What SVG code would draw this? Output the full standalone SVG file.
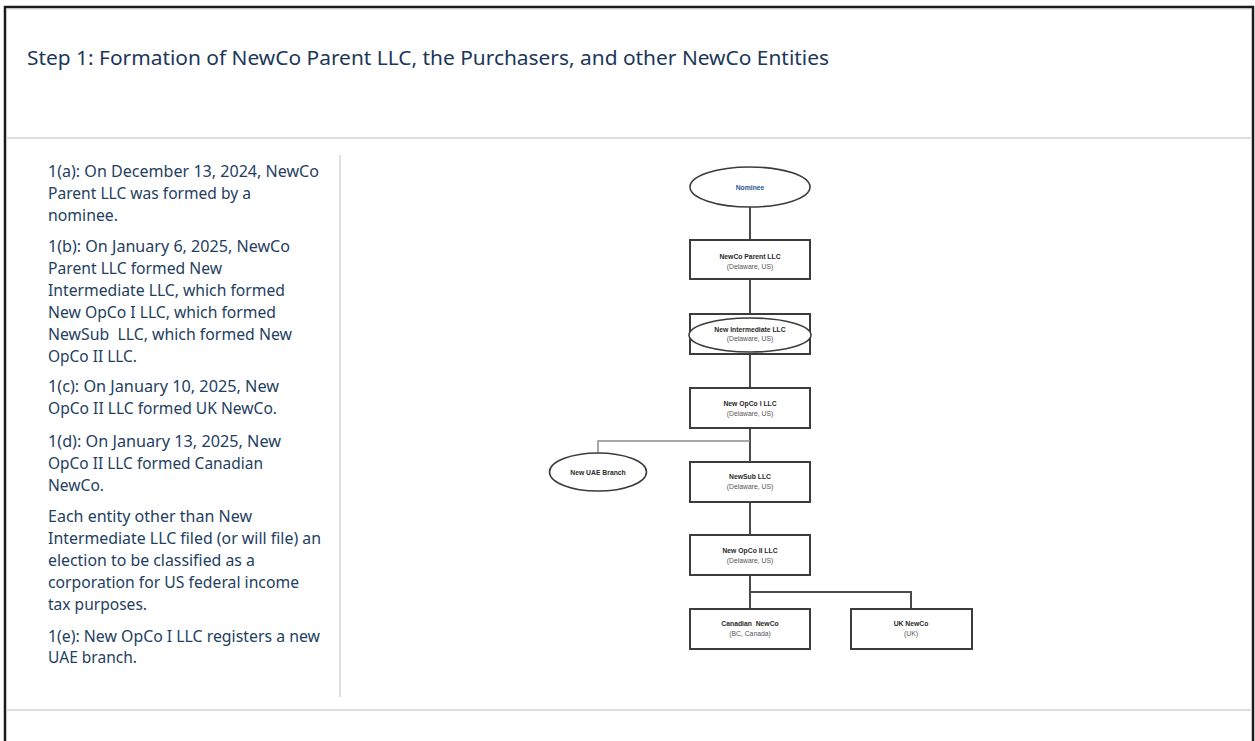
<svg xmlns="http://www.w3.org/2000/svg" width="1255" height="741" viewBox="0 0 1255 741">
  <style>
    .frame { stroke: #1a1a1a; stroke-width: 2.5; fill: none; }
    .rule { stroke: #d4d4d4; stroke-width: 1.5; fill: none; }
    .title { font-family: "Noto Sans", "Open Sans", sans-serif; font-size: 20.5px; fill: #1d3759; }
    .note { font-family: "Noto Sans", "Open Sans", sans-serif; font-size: 16px; fill: #24405f; }
    .box { fill: #ffffff; stroke: #3c3c3c; stroke-width: 2; }
    .oval { fill: #ffffff; stroke: #3c3c3c; stroke-width: 1.6; }
    .link { stroke: #4a4a4a; stroke-width: 2; fill: none; }
    .thin { stroke: #8c8c8c; stroke-width: 1.5; fill: none; }
    .name { font-family: "Liberation Sans", Arial, sans-serif; font-size: 6.8px; font-weight: bold; fill: #2a2a2a; text-anchor: middle; }
    .sub { font-family: "Liberation Sans", Arial, sans-serif; font-size: 6.8px; fill: #555555; text-anchor: middle; }
    .blue { fill: #2f5597; }
  </style>

  <rect x="0" y="0" width="1255" height="741" fill="#ffffff"/>

  <!-- page frame (open at the bottom) -->
  <path class="frame" d="M5,741 V7 H1253 V741"/>
  <line x1="6" y1="9.5" x2="1252" y2="9.5" stroke="#e6e6e6" stroke-width="1"/>

  <!-- header / footer rules and column divider -->
  <line class="rule" x1="6" y1="138" x2="1252" y2="138"/>
  <line class="rule" x1="6" y1="710" x2="1252" y2="710"/>
  <line class="rule" x1="340" y1="155" x2="340" y2="697"/>

  <text class="title" x="27" y="65" textLength="802" lengthAdjust="spacingAndGlyphs">Step 1: Formation of NewCo Parent LLC, the Purchasers, and other NewCo Entities</text>

  <!-- step notes -->
  <g id="notes" class="note">
    <text x="48" y="177" textLength="271" lengthAdjust="spacingAndGlyphs">1(a): On December 13, 2024, NewCo</text>
    <text x="48" y="199" textLength="203" lengthAdjust="spacingAndGlyphs">Parent LLC was formed by a</text>
    <text x="48" y="221" textLength="70" lengthAdjust="spacingAndGlyphs">nominee.</text>

    <text x="48" y="252" textLength="242" lengthAdjust="spacingAndGlyphs">1(b): On January 6, 2025, NewCo</text>
    <text x="48" y="274" textLength="174" lengthAdjust="spacingAndGlyphs">Parent LLC formed New</text>
    <text x="48" y="296" textLength="237" lengthAdjust="spacingAndGlyphs">Intermediate LLC, which formed</text>
    <text x="48" y="318" textLength="228" lengthAdjust="spacingAndGlyphs">New OpCo I LLC, which formed</text>
    <text x="48" y="340" textLength="244" lengthAdjust="spacingAndGlyphs" xml:space="preserve">NewSub  LLC, which formed New</text>
    <text x="48" y="362" textLength="89" lengthAdjust="spacingAndGlyphs">OpCo II LLC.</text>

    <text x="48" y="392" textLength="231" lengthAdjust="spacingAndGlyphs">1(c): On January 10, 2025, New</text>
    <text x="48" y="414" textLength="229" lengthAdjust="spacingAndGlyphs">OpCo II LLC formed UK NewCo.</text>

    <text x="48" y="447" textLength="233" lengthAdjust="spacingAndGlyphs">1(d): On January 13, 2025, New</text>
    <text x="48" y="469" textLength="215" lengthAdjust="spacingAndGlyphs">OpCo II LLC formed Canadian</text>
    <text x="48" y="491" textLength="56" lengthAdjust="spacingAndGlyphs">NewCo.</text>

    <text x="48" y="522" textLength="204" lengthAdjust="spacingAndGlyphs">Each entity other than New</text>
    <text x="48" y="544" textLength="273" lengthAdjust="spacingAndGlyphs">Intermediate LLC filed (or will file) an</text>
    <text x="48" y="566" textLength="207" lengthAdjust="spacingAndGlyphs">election to be classified as a</text>
    <text x="48" y="588" textLength="251" lengthAdjust="spacingAndGlyphs">corporation for US federal income</text>
    <text x="48" y="610" textLength="99" lengthAdjust="spacingAndGlyphs">tax purposes.</text>

    <text x="48" y="642" textLength="272" lengthAdjust="spacingAndGlyphs">1(e): New OpCo I LLC registers a new</text>
    <text x="48" y="663" textLength="89" lengthAdjust="spacingAndGlyphs">UAE branch.</text>
  </g>

  <!-- connectors -->
  <g id="connectors">
    <line class="link" x1="750" y1="207" x2="750" y2="240"/>
    <line class="link" x1="750" y1="279" x2="750" y2="314"/>
    <line class="link" x1="750" y1="354" x2="750" y2="388"/>
    <line class="link" x1="750" y1="428" x2="750" y2="462"/>
    <line class="link" x1="750" y1="502" x2="750" y2="535"/>
    <polyline class="thin" points="750,441 598,441 598,453"/>
    <line class="link" x1="750" y1="575" x2="750" y2="609"/>
    <polyline class="link" points="750,592 911,592 911,609"/>
  </g>

  <!-- entities -->
  <g id="nominee">
    <ellipse class="oval" cx="750" cy="187" rx="60" ry="20"/>
    <text class="name blue" x="750" y="189.5">Nominee</text>
  </g>

  <g id="newco-parent">
    <rect class="box" x="690" y="240" width="120" height="39"/>
    <text class="name" x="750" y="258.5">NewCo Parent LLC</text>
    <text class="sub" x="750" y="268.5">(Delaware, US)</text>
  </g>

  <g id="new-intermediate">
    <rect class="box" x="690" y="314" width="120" height="40"/>
    <ellipse class="oval" cx="750" cy="335" rx="61" ry="17"/>
    <text class="name" x="750" y="331.5">New Intermediate LLC</text>
    <text class="sub" x="750" y="341">(Delaware, US)</text>
  </g>

  <g id="new-opco-i">
    <rect class="box" x="690" y="388" width="120" height="40"/>
    <text class="name" x="750" y="405.5">New OpCo I LLC</text>
    <text class="sub" x="750" y="415.5">(Delaware, US)</text>
  </g>

  <g id="uae-branch">
    <ellipse class="oval" cx="598" cy="472" rx="48.5" ry="19"/>
    <text class="name" x="598" y="474.5">New UAE Branch</text>
  </g>

  <g id="newsub">
    <rect class="box" x="690" y="462" width="120" height="40"/>
    <text class="name" x="750" y="479">NewSub LLC</text>
    <text class="sub" x="750" y="489">(Delaware, US)</text>
  </g>

  <g id="new-opco-ii">
    <rect class="box" x="690" y="535" width="120" height="40"/>
    <text class="name" x="750" y="552.5">New OpCo II LLC</text>
    <text class="sub" x="750" y="562.5">(Delaware, US)</text>
  </g>

  <g id="canadian-newco">
    <rect class="box" x="690" y="609" width="120" height="40"/>
    <text class="name" x="750" y="625.5" xml:space="preserve">Canadian  NewCo</text>
    <text class="sub" x="750" y="635.5">(BC, Canada)</text>
  </g>

  <g id="uk-newco">
    <rect class="box" x="851" y="609" width="121" height="40"/>
    <text class="name" x="911" y="625.5">UK NewCo</text>
    <text class="sub" x="911" y="635.5">(UK)</text>
  </g>
</svg>
